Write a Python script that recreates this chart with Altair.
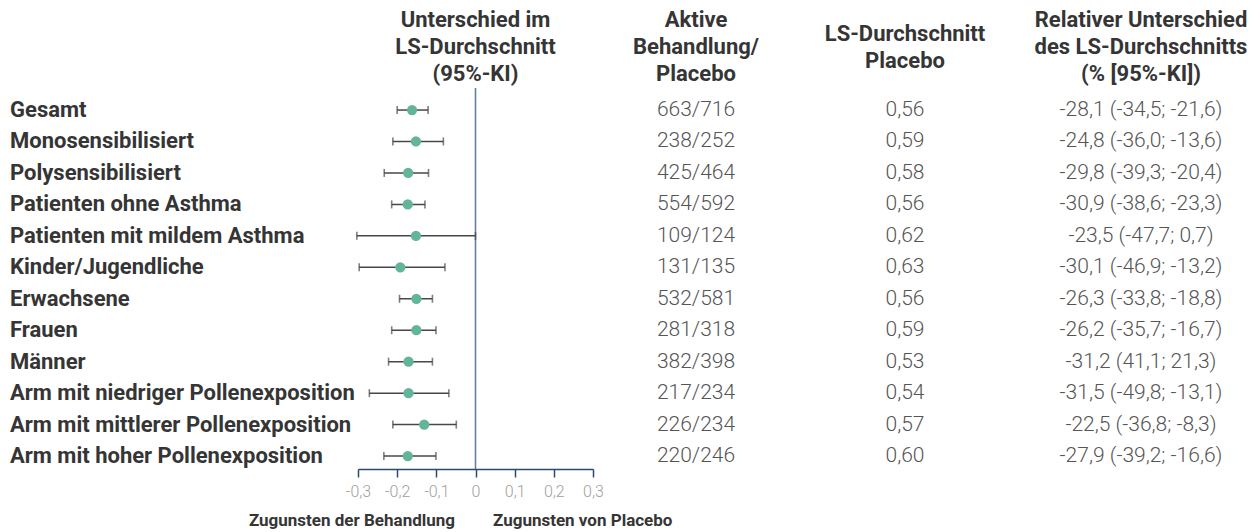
import altair as alt
import pandas as pd

labels = [
    "Gesamt", "Monosensibilisiert", "Polysensibilisiert", "Patienten ohne Asthma",
    "Patienten mit mildem Asthma", "Kinder/Jugendliche", "Erwachsene", "Frauen",
    "Männer", "Arm mit niedriger Pollenexposition", "Arm mit mittlerer Pollenexposition",
    "Arm mit hoher Pollenexposition",
]
est = [-0.162, -0.152, -0.172, -0.173, -0.152, -0.192, -0.151, -0.151, -0.171, -0.171, -0.131, -0.173]
lo = [-0.200, -0.211, -0.233, -0.214, -0.303, -0.297, -0.194, -0.214, -0.222, -0.271, -0.211, -0.234]
hi = [-0.121, -0.082, -0.120, -0.129, 0.000, -0.078, -0.110, -0.101, -0.110, -0.068, -0.049, -0.101]
counts = ["663/716", "238/252", "425/464", "554/592", "109/124", "131/135",
          "532/581", "281/318", "382/398", "217/234", "226/234", "220/246"]
placebo = ["0,56", "0,59", "0,58", "0,56", "0,62", "0,63", "0,56", "0,59", "0,53", "0,54", "0,57", "0,60"]
rel = ["-28,1 (-34,5; -21,6)", "-24,8 (-36,0; -13,6)", "-29,8 (-39,3; -20,4)",
       "-30,9 (-38,6; -23,3)", "-23,5 (-47,7; 0,7)", "-30,1 (-46,9; -13,2)",
       "-26,3 (-33,8; -18,8)", "-26,2 (-35,7; -16,7)", "-31,2 (41,1; 21,3)",
       "-31,5 (-49,8; -13,1)", "-22,5 (-36,8; -8,3)", "-27,9 (-39,2; -16,6)"]

h_forest = ["Unterschied im", "LS-Durchschnitt", "(95%-KI)"]
h_a = ["Aktive", "Behandlung/", "Placebo"]
h_b = ["LS-Durchschnitt", "Placebo"]
h_c = ["Relativer Unterschied", "des LS-Durchschnitts", "(% [95%-KI])"]
ticks = [-0.3, -0.2, -0.1, 0.0, 0.1, 0.2, 0.3]
foot_left = "Zugunsten der Behandlung"
foot_right = "Zugunsten von Placebo"

df = pd.DataFrame({"label": labels, "est": est, "lo": lo, "hi": hi,
                   "counts": counts, "placebo": placebo, "rel": rel})

H = 381
HEAD_Y = -68
LINE_H = 27
yscale = alt.Scale(type="point", padding=0.556, align=0.63)
Y = alt.Y("label:N", sort=labels, scale=yscale, axis=None)

BOLD = "#353535"
VAL = "#555555"


def header(lines, x):
    n = len(lines)
    y = HEAD_Y + (3 - n) * LINE_H / 2
    return alt.Chart(pd.DataFrame({"t": ["\n".join(lines)]})).mark_text(
        lineBreak="\n", font="Roboto", fontWeight="bold", fontSize=22, lineHeight=LINE_H,
        align="center", baseline="middle", color=BOLD,
    ).encode(text="t:N", x=alt.value(x), y=alt.value(y))


# label column
W_LAB = 350
lab = alt.Chart(df).mark_text(
    align="left", baseline="middle", font="Roboto", fontWeight="bold", fontSize=22, color=BOLD
).encode(y=Y, x=alt.value(2), text="label:N").properties(width=W_LAB, height=H)

# forest panel
W_F = 235
xscale = alt.Scale(domain=[-0.3, 0.3], nice=False, zero=False)
xaxis = alt.Axis(
    values=ticks, grid=False, title=None, labelOverlap=False, labelFlush=False,
    labelExpr="datum.value == 0 ? '0' : replace(replace(format(datum.value, '.1f'), '.', ','), '\u2212', '-')",
    domainColor="#2a4a72", domainWidth=1.5, tickColor="#2a4a72", tickWidth=1.5, tickSize=8,
    labelColor="#a0a0a0", labelFontSize=16, labelFont="Roboto", labelFontWeight=300, labelPadding=6,
)
base = alt.Chart(df)
zero = alt.Chart(pd.DataFrame({"z": [0.0]})).mark_rule(color="#6580a3", strokeWidth=1.6).encode(
    x=alt.X("z:Q", scale=xscale, axis=xaxis))
bars = base.mark_rule(color="#474747", strokeWidth=1.5).encode(
    x=alt.X("lo:Q", scale=xscale, axis=xaxis), x2="hi:Q", y=Y)
cap_lo = base.mark_tick(color="#474747", thickness=1.6, size=8).encode(
    x=alt.X("lo:Q", scale=xscale, axis=xaxis), y=Y)
cap_hi = base.mark_tick(color="#474747", thickness=1.6, size=8).encode(
    x=alt.X("hi:Q", scale=xscale, axis=xaxis), y=Y)
pts = base.mark_circle(size=105, color="#62b59b", opacity=1).encode(
    x=alt.X("est:Q", scale=xscale, axis=xaxis), y=Y)
fl = alt.Chart(pd.DataFrame({"t": [foot_left]})).mark_text(
    align="right", baseline="middle", font="Roboto", fontWeight="bold", fontSize=17, color=BOLD
).encode(text="t:N", x=alt.value(97), y=alt.value(433))
fr = alt.Chart(pd.DataFrame({"t": [foot_right]})).mark_text(
    align="left", baseline="middle", font="Roboto", fontWeight="bold", fontSize=17, color=BOLD
).encode(text="t:N", x=alt.value(135), y=alt.value(433))
forest = alt.layer(zero, bars, cap_lo, cap_hi, pts, fl, fr, header(h_forest, W_F / 2)).properties(
    width=W_F, height=H)


def col(field, lines, width, cx):
    t = alt.Chart(df).mark_text(
        align="center", baseline="middle", font="Roboto", fontWeight=300, fontSize=21, color=VAL
    ).encode(y=Y, x=alt.value(cx), text=f"{field}:N")
    return alt.layer(t, header(lines, cx)).properties(width=width, height=H)


col_a = col("counts", h_a, 206, 103)
col_b = col("placebo", h_b, 212, 106)
col_c = col("rel", h_c, 240, 130)

chart = alt.hconcat(lab, forest, col_a, col_b, col_c, spacing=0, bounds="flush").properties(
    padding={"left": 0, "top": 1, "right": 0, "bottom": 0}
).configure(
    font="Roboto",
    view=alt.ViewConfig(stroke=None),
    axisX=alt.AxisConfig(labelOverlap=False, labelFlush=False),
)

chart.save("out.html", embed_options={"renderer": "svg", "actions": False})
